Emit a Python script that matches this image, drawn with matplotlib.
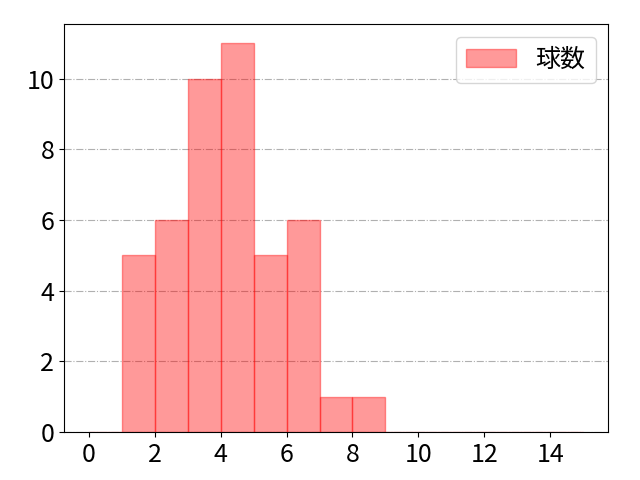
import matplotlib
matplotlib.use("Agg")
import matplotlib.pyplot as plt
import numpy as np

plt.rcParams['font.family'] = ['Noto Sans CJK JP', 'DejaVu Sans']

# pitch-count bins (left edges) and number of games in each
bin_edges = list(range(0, 16))
counts = [0, 5, 6, 10, 11, 5, 6, 1, 1, 0, 0, 0, 0, 0, 0]
label = "球数"

fig, ax = plt.subplots(figsize=(6.4, 4.8), dpi=100)
ax.hist(bin_edges[:-1], bins=bin_edges, weights=counts,
        color="red", alpha=0.4, edgecolor="red", linewidth=1,
        label=label)
ax.grid(axis="y", linestyle="-.", color="#b0b0b0", linewidth=0.8)
ax.set_axisbelow(True)
ax.set_xticks(np.arange(0, 16, 2))
ax.tick_params(labelsize=18)
ax.legend(fontsize=18, loc="upper right")
fig.subplots_adjust(left=0.1, right=0.95, top=0.95, bottom=0.1)
fig.savefig("out.png")
